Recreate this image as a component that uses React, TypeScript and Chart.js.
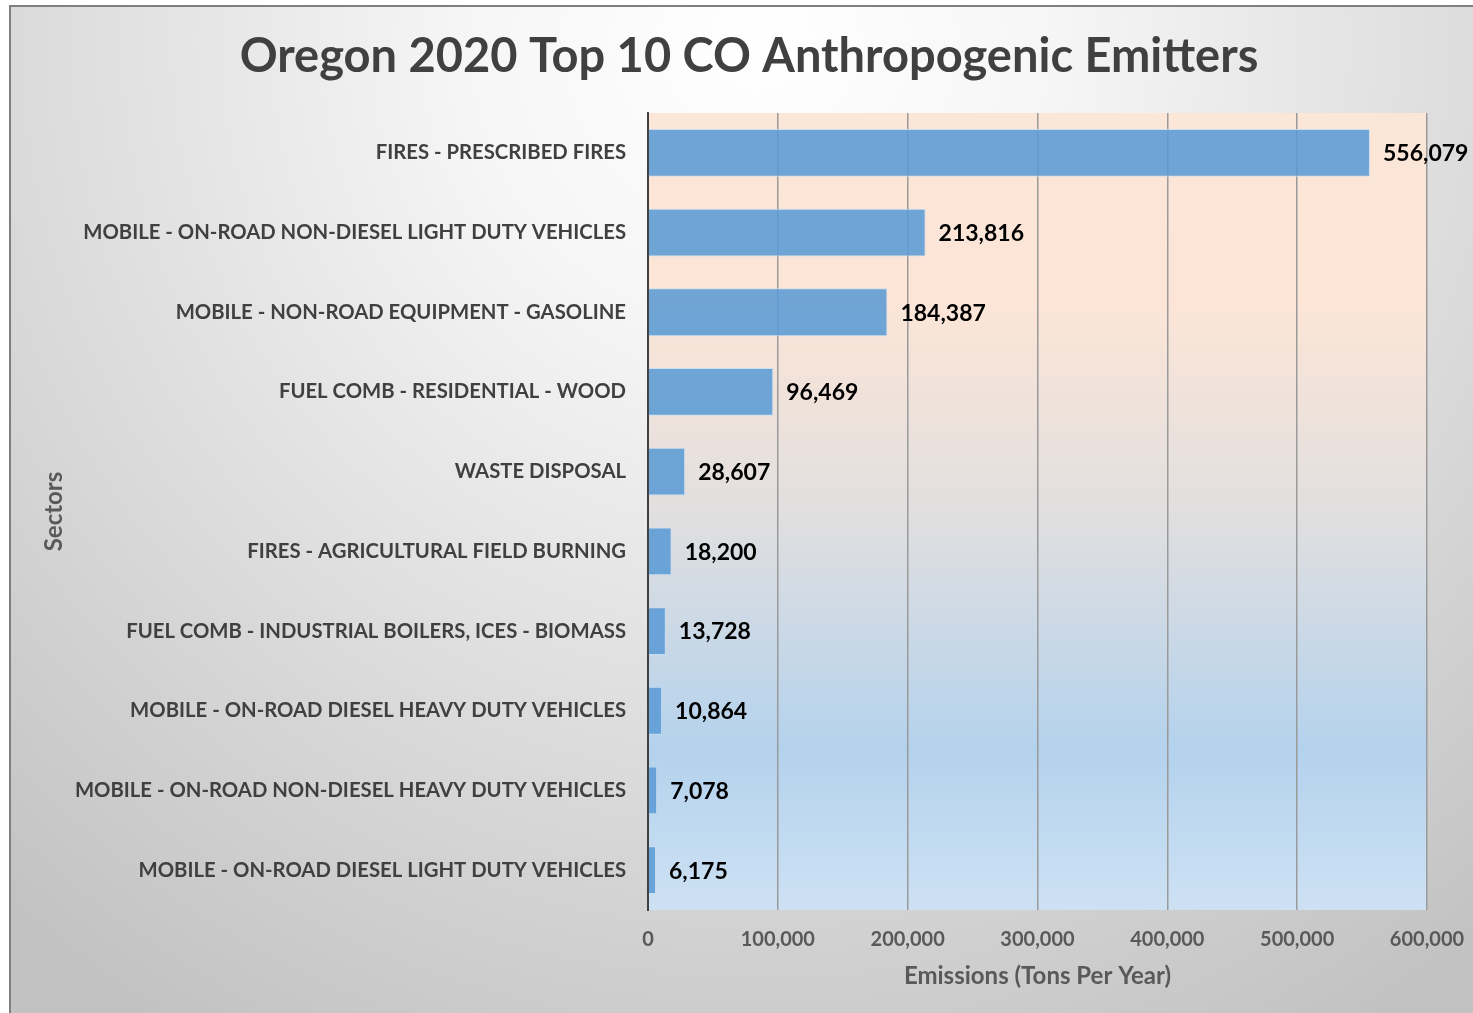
import React, { useEffect, useRef } from "react";
import { Chart, registerables } from "chart.js";

Chart.register(...registerables);

const TITLE = "Oregon 2020 Top 10 CO Anthropogenic Emitters";
const X_TITLE = "Emissions (Tons Per Year)";
const Y_TITLE = "Sectors";

const sectors = [
  "FIRES - PRESCRIBED FIRES",
  "MOBILE - ON-ROAD NON-DIESEL LIGHT DUTY VEHICLES",
  "MOBILE - NON-ROAD EQUIPMENT - GASOLINE",
  "FUEL COMB - RESIDENTIAL - WOOD",
  "WASTE DISPOSAL",
  "FIRES - AGRICULTURAL FIELD BURNING",
  "FUEL COMB - INDUSTRIAL BOILERS, ICES - BIOMASS",
  "MOBILE - ON-ROAD DIESEL HEAVY DUTY VEHICLES",
  "MOBILE - ON-ROAD NON-DIESEL HEAVY DUTY VEHICLES",
  "MOBILE - ON-ROAD DIESEL LIGHT DUTY VEHICLES",
];

const emissions = [556079, 213816, 184387, 96469, 28607, 18200, 13728, 10864, 7078, 6175];

const xMin = 0;
const xMax = 600000;
const xStep = 100000;

const FONT = "Lato, 'Open Sans', sans-serif";
const fmt = (v: number) => Math.round(v).toLocaleString("en-US");

const backgroundPlugin = {
  id: "bgPlugin",
  beforeDraw(chart: any) {
    const { ctx, width, height, chartArea } = chart;
    ctx.save();
    ctx.fillStyle = "#ffffff";
    ctx.fillRect(0, 0, width, height);
    // outer radial gradient
    const rg = ctx.createRadialGradient(760, 40, 0, 760, 40, 1150);
    rg.addColorStop(0, "#ffffff");
    rg.addColorStop(0.25, "#f6f6f6");
    rg.addColorStop(1, "#c2c2c2");
    ctx.fillStyle = rg;
    ctx.fillRect(10, 6, width - 10, height - 6);
    // frame border
    ctx.strokeStyle = "#7f7f7f";
    ctx.lineWidth = 2;
    ctx.beginPath();
    ctx.moveTo(10, height);
    ctx.lineTo(10, 6);
    ctx.lineTo(width, 6);
    ctx.stroke();
    // plot area gradient
    const { left, right, top, bottom } = chartArea;
    const lg = ctx.createLinearGradient(0, top, 0, bottom);
    lg.addColorStop(0, "#fce6d8");
    lg.addColorStop(0.24, "#fce5d7");
    lg.addColorStop(0.5, "#e1dfdf");
    lg.addColorStop(0.8, "#b4d2ed");
    lg.addColorStop(1, "#cde1f3");
    ctx.fillStyle = lg;
    ctx.fillRect(left, top, right - left, bottom - top);
    // title
    ctx.fillStyle = "#404040";
    ctx.font = `bold 47px ${FONT}`;
    ctx.textAlign = "center";
    ctx.textBaseline = "middle";
    ctx.fillText(TITLE, 749, 57);
    ctx.restore();
  },
};

const valueLabelPlugin = {
  id: "valueLabels",
  afterDatasetsDraw(chart: any) {
    const { ctx } = chart;
    const meta = chart.getDatasetMeta(0);
    const data = chart.data.datasets[0].data as number[];
    ctx.save();
    ctx.fillStyle = "#000000";
    ctx.font = `bold 23px ${FONT}`;
    ctx.textAlign = "left";
    ctx.textBaseline = "middle";
    meta.data.forEach((bar: any, i: number) => {
      ctx.fillText(fmt(data[i]), bar.x + 13, bar.y + 1);
    });
    ctx.restore();
  },
};

export default function App() {
  const canvasRef = useRef<HTMLCanvasElement | null>(null);

  useEffect(() => {
    if (!canvasRef.current) return;
    const chart = new Chart(canvasRef.current, {
      type: "bar",
      data: {
        labels: sectors,
        datasets: [
          {
            data: emissions,
            backgroundColor: "rgba(91,155,213,0.88)",
            borderColor: "rgba(200,222,242,0.9)",
            borderWidth: 1,
            categoryPercentage: 1,
            barPercentage: 0.6,
          },
        ],
      },
      options: {
        indexAxis: "y",
        responsive: false,
        animation: false,
        devicePixelRatio: 1,
        layout: { padding: { top: 113, right: 46, left: 0, bottom: 0 } },
        plugins: {
          legend: { display: false },
          title: { display: false },
          tooltip: { enabled: false },
        },
        scales: {
          x: {
            type: "linear",
            min: xMin,
            max: xMax,
            afterFit(scale: any) {
              scale.height = 103;
              scale.paddingLeft = 0;
              scale.paddingRight = 0;
            },
            ticks: {
              stepSize: xStep,
              callback: (v: any) => fmt(Number(v)),
              font: { family: FONT, size: 20, weight: "bold" },
              color: "#595959",
              padding: 18,
              maxRotation: 0,
            },
            grid: {
              color: "#9a9a9a",
              lineWidth: 1.5,
              drawTicks: false,
            },
            border: { display: false },
            title: {
              display: true,
              text: X_TITLE,
              font: { family: FONT, size: 24, weight: "bold" },
              color: "#595959",
              padding: { top: 0, bottom: 22 },
            },
          },
          y: {
            type: "category",
            afterFit(scale: any) {
              scale.width = 648;
            },
            ticks: {
              autoSkip: false,
              font: { family: FONT, size: 20.3, weight: "bold" },
              color: "#404040",
              padding: 22,
            },
            grid: { display: false, drawTicks: false },
            border: { display: true, color: "#404040", width: 2 },
            title: {
              display: true,
              text: Y_TITLE,
              font: { family: FONT, size: 24, weight: "bold" },
              color: "#595959",
              padding: { top: 40, bottom: 0 },
            },
          },
        },
      },
      plugins: [backgroundPlugin, valueLabelPlugin],
    });
    let alive = true;
    if ((document as any).fonts && (document as any).fonts.load) {
      Promise.all([
        (document as any).fonts.load(`bold 20px Lato`),
        (document as any).fonts.load(`20px Lato`),
      ])
        .then(() => {
          if (alive) chart.update();
        })
        .catch(() => {});
    }
    return () => {
      alive = false;
      chart.destroy();
    };
  }, []);

  return (
    <div style={{ position: "absolute", left: 0, top: 0, width: 1473, height: 1013 }}>
      <canvas ref={canvasRef} width={1473} height={1013} style={{ width: 1473, height: 1013, display: "block" }} />
    </div>
  );
}
